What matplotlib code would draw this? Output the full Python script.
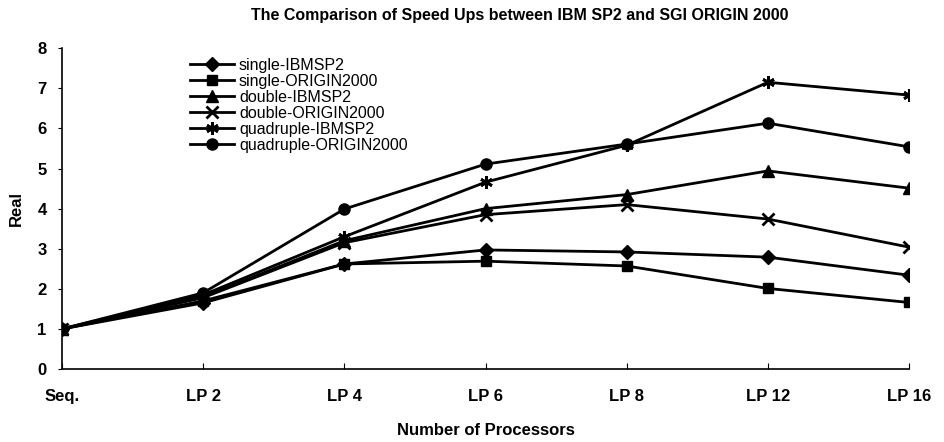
import matplotlib
matplotlib.use("Agg")
import matplotlib.pyplot as plt

categories = ["Seq.", "LP 2", "LP 4", "LP 6", "LP 8", "LP 12", "LP 16"]
single_ibm = [1.0, 1.65, 2.62, 2.97, 2.92, 2.79, 2.34]
single_origin = [1.0, 1.70, 2.62, 2.69, 2.57, 2.01, 1.66]
double_ibm = [1.0, 1.80, 3.20, 4.00, 4.35, 4.94, 4.51]
double_origin = [1.0, 1.78, 3.15, 3.85, 4.10, 3.74, 3.04]
quad_ibm = [1.0, 1.85, 3.30, 4.66, 5.58, 7.15, 6.83]
quad_origin = [1.0, 1.90, 3.99, 5.11, 5.61, 6.13, 5.54]

series = [
    ("single-IBMSP2", single_ibm, "D", 7),
    ("single-ORIGIN2000", single_origin, "s", 7),
    ("double-IBMSP2", double_ibm, "^", 8),
    ("double-ORIGIN2000", double_origin, "x", 8),
    ("quadruple-IBMSP2", quad_ibm, (6, 2, 0), 9),
    ("quadruple-ORIGIN2000", quad_origin, "o", 8),
]

plt.rcParams["font.family"] = ["Liberation Sans", "DejaVu Sans"]

fig = plt.figure(figsize=(9.45, 4.42), dpi=100)
ax = fig.add_axes([0.0656, 0.165, 0.8964, 0.726])

x = list(range(len(categories)))
for name, vals, mk, ms in series:
    ax.plot(x, vals, color="black", lw=2, marker=mk, markersize=ms,
            markeredgewidth=2 if mk == "x" or isinstance(mk, tuple) else 1,
            markerfacecolor="black", markeredgecolor="black", label=name)

ax.set_xlim(0, 6)
ax.set_ylim(0, 8)
ax.set_xticks(x)
ax.set_xticklabels(categories, fontsize=12, fontweight="bold")
ax.set_yticks(range(0, 9))
ax.set_yticklabels([str(i) for i in range(0, 9)], fontsize=12, fontweight="bold")
ax.tick_params(axis="x", direction="in", length=4, pad=14)
ax.tick_params(axis="y", direction="out", length=3, pad=8)
for s in ("top", "right"):
    ax.spines[s].set_visible(False)
for s in ("left", "bottom"):
    ax.spines[s].set_linewidth(1.2)

ax.set_xlabel("Number of Processors", fontsize=12, fontweight="bold", labelpad=14)
ax.set_ylabel("Real", fontsize=12, fontweight="bold", labelpad=10)
fig.text(0.55, 0.965, "The Comparison of Speed Ups between IBM SP2 and SGI ORIGIN 2000",
         fontsize=11.5, fontweight="bold", ha="center", va="center")

leg = ax.legend(loc="upper left", bbox_to_anchor=(0.143, 0.99), frameon=False,
                fontsize=11.5, handlelength=2.8, labelspacing=0.06,
                handletextpad=0.3, borderaxespad=0)

fig.savefig("out.png", dpi=100)
